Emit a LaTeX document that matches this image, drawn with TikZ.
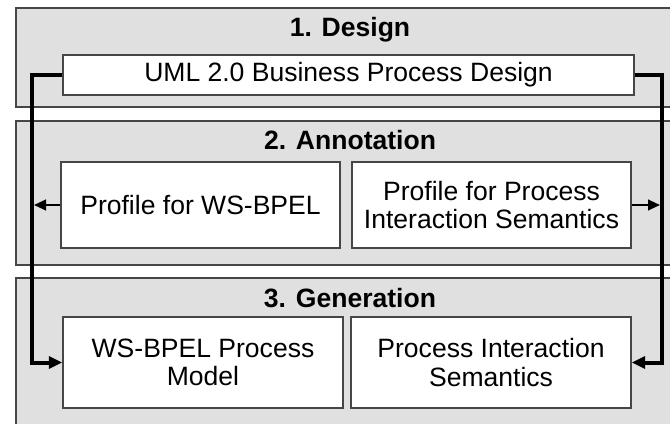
\documentclass[tikz,border=0pt]{standalone}
\usepackage{fontspec}
\setmainfont{Liberation Sans}
\usetikzlibrary{arrows.meta}

\definecolor{panelgray}{RGB}{224,224,224}
\definecolor{edgegray}{RGB}{70,70,70}

\tikzset{every picture/.style={line width=0.75pt}}
\tikzset{
  panel/.style={draw=edgegray, fill=panelgray, line width=1pt},
  stagebox/.style={draw=edgegray, fill=white, line width=1.2pt, inner sep=0pt, align=center,
    font=\fontsize{19.9}{21.5}\selectfont},
  stagetitle/.style={inner sep=0.75pt, anchor=base, font=\bfseries\fontsize{19.9}{21.5}\selectfont},
  bus/.style={line width=3pt, -{Triangle[length=10pt,width=9pt]}},
  feed/.style={line width=1.5pt, -{Triangle[length=9pt,width=8pt]}}
}

\begin{document}
\begin{tikzpicture}[x=0.75pt,y=0.75pt,yscale=-1,xscale=1]
\useasboundingbox (0,0) rectangle (670,424);
\clip (0,0) rectangle (670,424);

%Shape: Rectangle (stage panels)
\draw [panel] (16,8) rectangle (690,107) ;
\draw [panel] (16,121) rectangle (690,265) ;
\draw [panel] (16,278) rectangle (690,440) ;

% Text Node
\node [stagetitle] (design) at (350,37) {1. Design};
% Text Node
\node [stagetitle] (annotation) at (350,149) {2. Annotation};
% Text Node
\node [stagetitle] (generation) at (350,307) {3. Generation};

% Text Node
\node [stagebox, minimum width=428.25pt, minimum height=30pt] (uml) at (348.5,75) {UML 2.0 Business Process Design};
% Text Node
\node [stagebox, minimum width=209.25pt, minimum height=64.5pt] (profbpel) at (200.5,205) {Profile for WS-BPEL};
% Text Node
\node [stagebox, minimum width=209.25pt, minimum height=64.5pt] (profpis) at (491.5,205) {Profile for Process\\Interaction Semantics};
% Text Node
\node [stagebox, minimum width=210pt, minimum height=68.25pt] (genbpel) at (203,362.5) {WS-BPEL Process\\Model};
% Text Node
\node [stagebox, minimum width=210pt, minimum height=68.25pt] (genpis) at (491,362.5) {Process Interaction\\Semantics};

\coordinate (leftbus) at (32,0);
\coordinate (rightbus) at (662,0);

%Straight Lines
\draw [bus] (uml.west) -- (uml.west -| leftbus) |- (genbpel.west) ;
%Straight Lines
\draw [bus] (uml.east) -- (uml.east -| rightbus) |- (genpis.east) ;
%Straight Lines
\draw [feed] (profbpel.west) -- ([xshift=1.5pt]profbpel.west -| leftbus) ;
%Straight Lines
\draw [feed] (profpis.east) -- ([xshift=-1.5pt]profpis.east -| rightbus) ;

\end{tikzpicture}
\end{document}
